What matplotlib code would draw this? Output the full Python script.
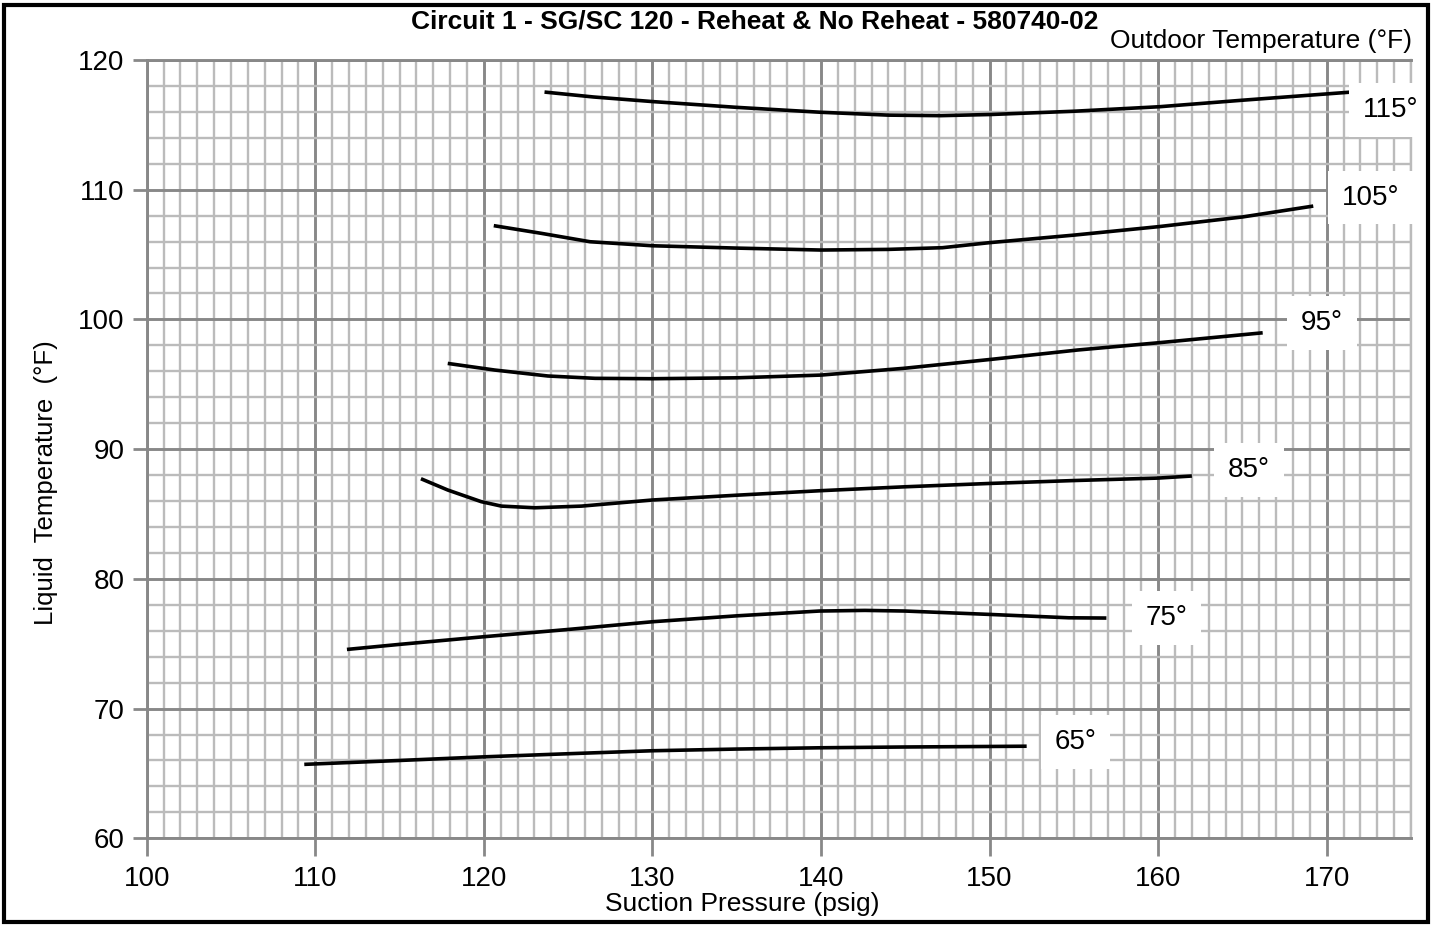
import matplotlib
matplotlib.use('Agg')
import matplotlib.pyplot as plt
from matplotlib.patches import Rectangle

plt.rcParams['font.family'] = ['Liberation Sans', 'DejaVu Sans']

# ====== data ======
temps = ['65°', '75°', '85°', '95°', '105°', '115°']

p65 = [109.35, 115, 120, 125, 130, 135, 140, 145, 150, 152.2]
t65 = [65.70, 66.0, 66.28, 66.52, 66.75, 66.88, 66.98, 67.04, 67.08, 67.1]

p75 = [111.88, 115, 120, 125, 130.05, 135, 139.9, 142.6, 145, 150.0, 154.7, 156.93]
t75 = [74.56, 74.95, 75.54, 76.1, 76.7, 77.15, 77.52, 77.57, 77.52, 77.26, 77.0, 76.98]

p85 = [116.27, 117.86, 119.85, 121.04, 123.03, 125.8, 130, 135, 140, 145, 150.08, 155, 160, 162.0]
t85 = [87.72, 86.85, 85.95, 85.61, 85.48, 85.61, 86.08, 86.45, 86.8, 87.1, 87.36, 87.58, 87.77, 87.93]

p95 = [117.86, 120.64, 123.8, 126.6, 130.0, 135, 140.0, 144.9, 150.08, 155.2, 160.0, 166.2]
t95 = [96.61, 96.1, 95.64, 95.46, 95.43, 95.5, 95.71, 96.23, 96.92, 97.64, 98.2, 98.97]

p105 = [120.59, 123.4, 126.3, 130, 135, 140, 144, 147.2, 150, 155, 160, 165, 169.2]
t105 = [107.23, 106.64, 105.99, 105.68, 105.5, 105.35, 105.4, 105.53, 105.92, 106.5, 107.15, 107.9, 108.74]

p115 = [123.6, 126.5, 130.06, 135, 140, 144, 147.1, 150.1, 155, 160.1, 165, 172.2]
t115 = [117.53, 117.15, 116.79, 116.35, 115.97, 115.75, 115.71, 115.8, 116.05, 116.4, 116.9, 117.6]

curves_p = [p65, p75, p85, p95, p105, p115]
curves_t = [t65, t75, t85, t95, t105, t115]

# label anchor points (data coords)
label_x = [155.1, 160.5, 165.4, 169.7, 172.6, 173.8]
label_y = [67.4, 77.0, 88.4, 99.7, 109.4, 116.15]

x_major = list(range(100, 171, 10))
y_major = list(range(60, 121, 10))

# ====== plot ======
fig = plt.figure(figsize=(14.35, 9.26), dpi=100)
ax = fig.add_axes([0.1022, 0.0947, 0.8811, 0.8405])

ax.set_xlim(100, 175)
ax.set_ylim(60, 120)
ax.set_xticks(x_major)
ax.set_yticks(y_major)
ax.set_xticks(range(100, 176), minor=True)
ax.set_yticks(range(60, 121, 2), minor=True)

ax.grid(which='minor', color='#bbbbbb', linewidth=1.7)
ax.grid(which='major', color='#888888', linewidth=2.1)
ax.set_axisbelow(True)

for s in ['left', 'bottom', 'top']:
    ax.spines[s].set_color('#888888')
    ax.spines[s].set_linewidth(2.1)
ax.spines['right'].set_color('#bbbbbb')
ax.spines['right'].set_linewidth(1.7)

ax.tick_params(which='minor', length=0)
ax.tick_params(axis='x', which='major', length=13, width=2, color='#888888', pad=7, labelsize=20)
ax.tick_params(axis='y', which='major', length=10, width=2, color='#888888', pad=6, labelsize=20)

for px, ty in zip(curves_p, curves_t):
    ax.plot(px, ty, color='black', linewidth=2.6, solid_capstyle='butt')

for lab, lx, ly in zip(temps, label_x, label_y):
    ax.text(lx, ly, lab, fontsize=20, ha='center', va='center',
            bbox=dict(facecolor='white', edgecolor='none', boxstyle='square,pad=0.5'))

fig.text(0.526, 0.977, 'Circuit 1 - SG/SC 120 - Reheat & No Reheat - 580740-02',
         fontsize=19, fontweight='bold', ha='center', va='center')
fig.text(0.984, 0.956, 'Outdoor Temperature (°F)', fontsize=19, ha='right', va='center')
fig.text(0.032, 0.479, 'Liquid  Temperature  (°F)', fontsize=18.5, rotation=90,
         ha='center', va='center')
fig.text(0.517, 0.0235, 'Suction Pressure (psig)', fontsize=19, ha='center', va='center')

fig.patches.append(Rectangle((0.003, 0.004), 0.992, 0.991, transform=fig.transFigure,
                             fill=False, edgecolor='black', linewidth=3))

out = 'out.png'
plt.savefig(out, dpi=100)
plt.close()
